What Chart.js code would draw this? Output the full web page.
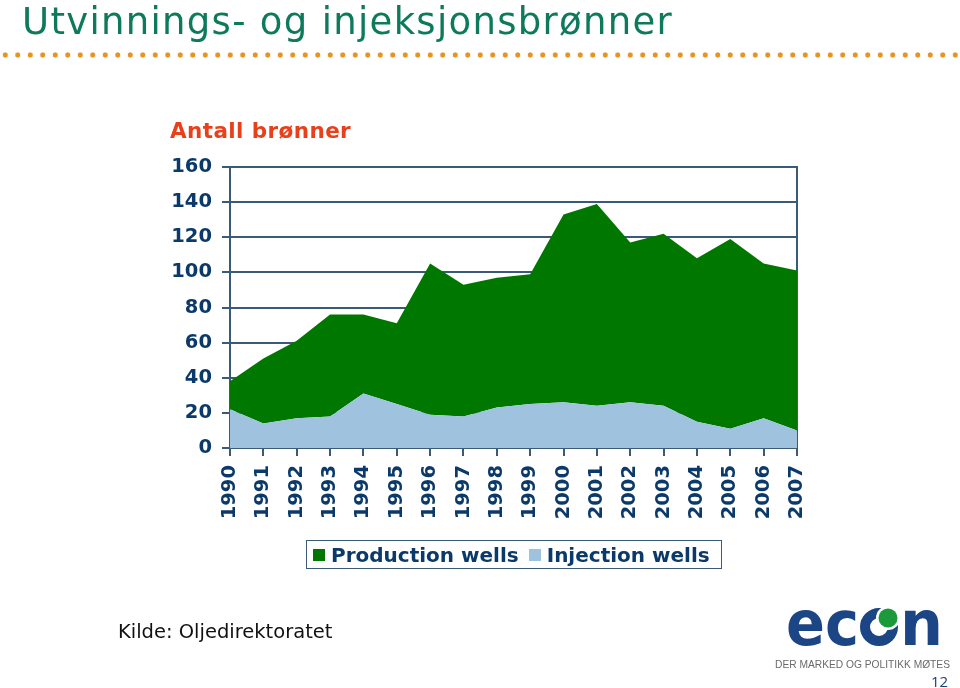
<!DOCTYPE html>
<html>
<head>
<meta charset="utf-8">
<script src="https://cdn.jsdelivr.net/npm/chart.js@4/dist/chart.umd.min.js"></script>
<style>
  body { margin: 0; background: #fff; width: 960px; height: 688px; overflow: hidden; position: relative; font-family: "DejaVu Sans", Verdana, sans-serif; }
  #chart { position: absolute; left: 0; top: 0; }
  .title { position: absolute; left: 22px; top: 4px; font-size: 37px; line-height: 36px; letter-spacing: 1.3px; color: #0e7a5c; white-space: nowrap; }
  .dots { position: absolute; left: 0; top: 52px; width: 960px; height: 6px;
    background-image: radial-gradient(circle, #e8921f 2.3px, transparent 2.9px);
    background-size: 12.5px 6px; background-position: -1px 0; }
  .ytitle { position: absolute; left: 170px; top: 118px; font-size: 21.5px; letter-spacing: 0.4px; font-weight: bold; color: #e8401a; white-space: nowrap; }
  #legend { position: absolute; left: 306px; top: 540px; width: 414px; height: 27px; border: 1.5px solid #3b5a78; display: flex; align-items: center; }
  #legend span.item { display: flex; align-items: center; font-size: 20px; font-weight: bold; color: #0b3a6a; margin-left: 6px; }
  #legend span.item + span.item { margin-left: 10px; }
  #legend span.sw { width: 12px; height: 12px; display: inline-block; margin-right: 6px; }
  .source { position: absolute; left: 118px; top: 620px; font-size: 19.5px; color: #111; white-space: nowrap; }
  .page { position: absolute; left: 931px; top: 671px; font-size: 15px; color: #1b3f73; font-family: "Open Sans", sans-serif; }
  svg.logo { position: absolute; left: 0; top: 0; }
</style>
</head>
<body>
<canvas id="chart" width="960" height="688"></canvas>
<div class="title">Utvinnings- og injeksjonsbrønner</div>
<div class="dots"></div>
<div class="ytitle">Antall brønner</div>
<div id="legend"></div>
<div class="source">Kilde: Oljedirektoratet</div>
<svg class="logo" width="960" height="688">
  <text x="786" y="645" font-family="DejaVu Sans" font-weight="bold" font-size="62" fill="#1c4585" textLength="73" lengthAdjust="spacingAndGlyphs">ec</text>
  <circle cx="879" cy="627" r="14" fill="none" stroke="#1c4585" stroke-width="10"/>
  <circle cx="888" cy="618" r="12" fill="#fff"/>
  <circle cx="888" cy="618" r="9.5" fill="#1a9a3a"/>
  <text x="900" y="645" font-family="DejaVu Sans" font-weight="bold" font-size="62" fill="#1c4585" textLength="43" lengthAdjust="spacingAndGlyphs">n</text>
  <text x="775" y="668" font-family="Liberation Sans" font-size="11" fill="#6a6a6a" textLength="175" lengthAdjust="spacingAndGlyphs">DER MARKED OG POLITIKK MØTES</text>
</svg>
<div class="page">12</div>
<script>
const years = ['1990','1991','1992','1993','1994','1995','1996','1997','1998','1999',
               '2000','2001','2002','2003','2004','2005','2006','2007'];
const injectionWells  = [22, 14, 17, 18, 31, 25, 19, 18, 23, 25, 26, 24, 26, 24, 15, 11, 17, 10];
const productionWells = [16, 37, 44, 58, 45, 46, 86, 75, 74, 74, 107, 115, 91, 98, 93, 108, 88, 91];
const yMax = 160;
const yStep = 20;

const seriesNames = ['Production wells', 'Injection wells'];
const green = '#007800';
const lightBlue = '#9fc3df';
const axisColor = '#3b5a78';
const navy = '#0b3a6a';

const ctx = document.getElementById('chart').getContext('2d');
const chart = new Chart(ctx, {
  type: 'line',
  data: {
    labels: years,
    datasets: [
      { label: seriesNames[1], data: injectionWells, backgroundColor: lightBlue, borderWidth: 0,
        fill: 'origin', pointRadius: 0, tension: 0 },
      { label: seriesNames[0], data: productionWells, backgroundColor: green, borderWidth: 0,
        fill: '-1', pointRadius: 0, tension: 0 }
    ]
  },
  options: {
    responsive: false,
    animation: false,
    layout: { padding: { left: 170, right: 163, top: 167, bottom: 0 } },
    plugins: { legend: { display: false }, tooltip: { enabled: false } },
    scales: {
      x: {
        offset: false,
        grid: { drawOnChartArea: false, drawTicks: true, tickLength: 8, color: axisColor, lineWidth: 2 },
        border: { color: axisColor, width: 2 },
        ticks: { autoSkip: false, minRotation: 90, maxRotation: 90, padding: 9, color: navy,
                 font: { family: 'DejaVu Sans', weight: 'bold', size: 19.5 } },
        afterFit: (s) => { s.height = 240; }
      },
      y: {
        stacked: true,
        min: 0, max: yMax,
        grid: { color: axisColor, lineWidth: 2, tickLength: 8 },
        border: { color: axisColor, width: 2 },
        ticks: { stepSize: yStep, padding: 10, color: navy,
                 font: { family: 'DejaVu Sans', weight: 'bold', size: 19.5 } },
        afterFit: (s) => { s.width = 60; }
      },
      y2: {
        position: 'right',
        min: 0, max: yMax,
        grid: { drawOnChartArea: false, drawTicks: false },
        border: { color: axisColor, width: 2 },
        ticks: { display: false },
        afterFit: (s) => { s.width = 0; }
      }
    }
  }
});

// legend box built from the series
const legend = document.getElementById('legend');
[[seriesNames[0], green], [seriesNames[1], lightBlue]].forEach(([name, col]) => {
  const item = document.createElement('span');
  item.className = 'item';
  item.innerHTML = '<span class="sw" style="background:' + col + '"></span>' + name;
  legend.appendChild(item);
});
</script>
</body>
</html>
